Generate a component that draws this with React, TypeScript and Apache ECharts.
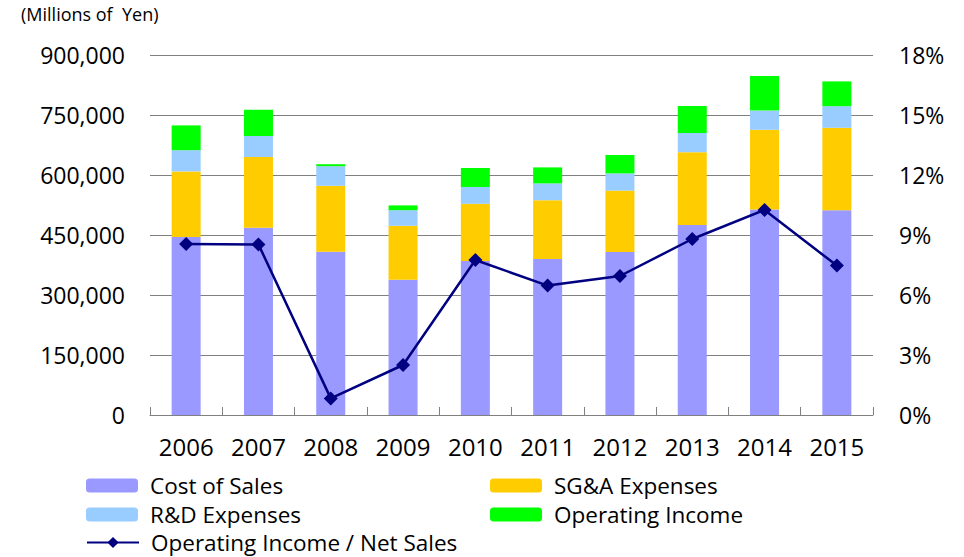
import React, { useEffect, useRef } from "react";
import * as echarts from "echarts";

const years = ["2006", "2007", "2008", "2009", "2010", "2011", "2012", "2013", "2014", "2015"];
const costOfSales = [445000, 468000, 408000, 338000, 385000, 390000, 407500, 475000, 514000, 512000];
const sgaExpenses = [164000, 177000, 165000, 135000, 143000, 147000, 153500, 182000, 199000, 206000];
const rdExpenses = [53000, 52500, 49000, 39000, 42000, 42000, 43000, 48000, 48000, 54000];
const operatingIncome = [62000, 65500, 5000, 12000, 47500, 40000, 46000, 67500, 86500, 62000];
const marginPct = [8.55, 8.53, 0.83, 2.5, 7.75, 6.47, 6.95, 8.8, 10.25, 7.47];

const FONT = "'Open Sans', 'Noto Sans', sans-serif";

export default function App() {
  const ref = useRef<HTMLDivElement>(null);
  useEffect(() => {
    if (!ref.current) return;
    const chart = echarts.init(ref.current, undefined, { renderer: "svg" });
    const barBase = { type: "bar" as const, stack: "total", barWidth: 29 };
    const legendItem = (name: string, left: number, top: number) => ({
      left,
      top,
      itemWidth: 52,
      itemHeight: 14,
      padding: 0,
      textStyle: { fontSize: 22.5, fontFamily: FONT, color: "#000", padding: [0, 0, 0, 7] },
      data: [name],
    });
    chart.setOption({
      animation: false,
      backgroundColor: "#ffffff",
      textStyle: { fontFamily: FONT },
      graphic: [
        {
          type: "text",
          left: 21,
          top: 5,
          style: { text: "(Millions of  Yen)", font: `18px ${FONT}`, fill: "#000" },
        },
      ],
      grid: { left: 150, right: 91, top: 55, bottom: 142 },
      legend: [
        legendItem("Cost of Sales", 86, 474),
        legendItem("R&D Expenses", 86, 503),
        legendItem("Operating Income / Net Sales", 86, 531),
        legendItem("SG&A Expenses", 490, 474),
        legendItem("Operating Income", 490, 503),
      ],
      xAxis: {
        type: "category",
        data: years,
        axisLine: { show: true, lineStyle: { color: "#808080", width: 1 } },
        axisTick: { show: true, inside: true, length: 8, lineStyle: { color: "#808080" } },
        axisLabel: { fontSize: 24, fontFamily: FONT, color: "#000", margin: 19 },
      },
      yAxis: [
        {
          type: "value",
          min: 0,
          max: 900000,
          interval: 150000,
          axisLine: { show: false },
          axisTick: { show: false },
          splitLine: { show: true, lineStyle: { color: "#808080", width: 1 } },
          axisLabel: {
            fontSize: 23,
            fontFamily: FONT,
            color: "#000",
            margin: 25,
            formatter: (v: number) => v.toLocaleString("en-US"),
          },
        },
        {
          type: "value",
          min: 0,
          max: 18,
          interval: 3,
          position: "right",
          axisLine: { show: false },
          axisTick: { show: false },
          splitLine: { show: false },
          axisLabel: { fontSize: 23, fontFamily: FONT, color: "#000", margin: 26, formatter: "{value}%" },
        },
      ],
      series: [
        { ...barBase, name: "Cost of Sales", data: costOfSales, itemStyle: { color: "#9999FF" } },
        { ...barBase, name: "SG&A Expenses", data: sgaExpenses, itemStyle: { color: "#FFCC00" } },
        { ...barBase, name: "R&D Expenses", data: rdExpenses, itemStyle: { color: "#99CCFF" } },
        { ...barBase, name: "Operating Income", data: operatingIncome, itemStyle: { color: "#00FF00" } },
        {
          type: "line",
          name: "Operating Income / Net Sales",
          yAxisIndex: 1,
          data: marginPct,
          symbol: "diamond",
          symbolSize: 14,
          lineStyle: { color: "#000080", width: 2.5 },
          itemStyle: { color: "#000080" },
          z: 10,
        },
      ],
    });
    return () => chart.dispose();
  }, []);
  return <div ref={ref} style={{ position: "fixed", left: 0, top: 0, width: 964, height: 557 }} />;
}
